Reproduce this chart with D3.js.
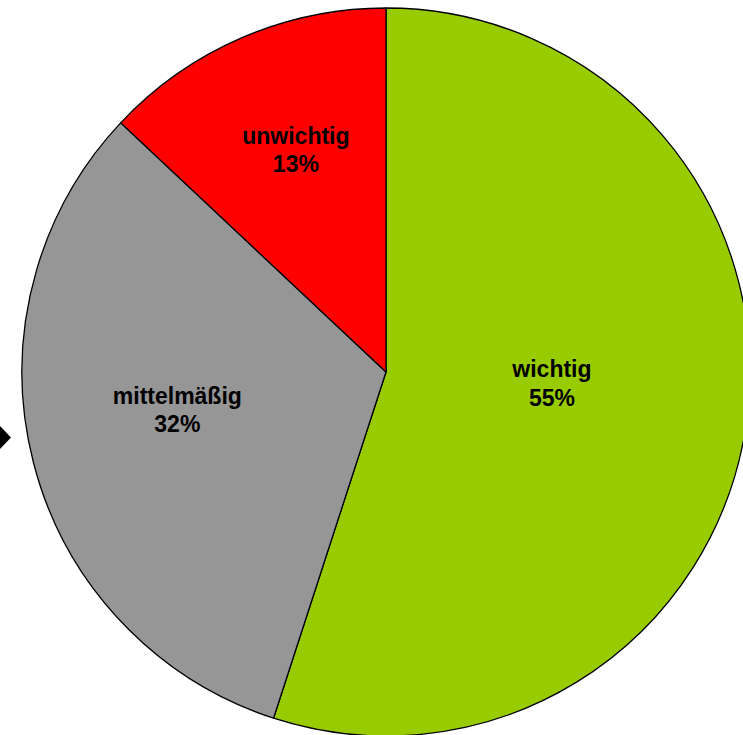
<!DOCTYPE html>
<html>
<head>
<meta charset="utf-8">
<script src="https://cdn.jsdelivr.net/npm/d3@7/dist/d3.min.js"></script>
<style>
  html, body { margin: 0; padding: 0; background: #fff; }
  svg { display: block; }
</style>
</head>
<body>
<svg id="chart" width="743" height="735"></svg>
<script>
// Data
const categories = ["wichtig", "mittelmäßig", "unwichtig"];
const values = [55, 32, 13];
const colors = ["#99CC00", "#969696", "#FF0000"];

// Layout (not data)
const W = 743, H = 735;
const cx = 386, cy = 372, R = 364;
const labelAngleDeg = [96.7, 257.6, 337.2];
const labelRadiusFrac = [0.459, 0.587, 0.639];

const svg = d3.select("#chart");

const pie = d3.pie().sort(null).value(d => d.value).startAngle(0).endAngle(2 * Math.PI);
const data = categories.map((c, i) => ({ name: c, value: values[i], color: colors[i], la: labelAngleDeg[i], lr: labelRadiusFrac[i] }));
const arcs = pie(data);

const arc = d3.arc().innerRadius(0).outerRadius(R);

const g = svg.append("g").attr("transform", `translate(${cx},${cy})`);

g.selectAll("path.slice")
  .data(arcs)
  .join("path")
  .attr("class", "slice")
  .attr("d", arc)
  .attr("fill", d => d.data.color)
  .attr("stroke", "#000")
  .attr("stroke-width", 1.3)
  .attr("stroke-linejoin", "round");

const total = d3.sum(values);
const labels = g.selectAll("text.lbl")
  .data(arcs)
  .join("text")
  .attr("class", "lbl")
  .attr("text-anchor", "middle")
  .attr("font-family", "'Liberation Sans', Arial, sans-serif")
  .attr("font-weight", "bold")
  .attr("font-size", "23px")
  .attr("fill", "#000")
  .attr("transform", d => {
    const a = d.data.la * Math.PI / 180;
    const r = R * d.data.lr;
    return `translate(${r * Math.sin(a)},${-r * Math.cos(a)})`;
  });

labels.append("tspan").attr("x", 0).attr("y", -14).text(d => d.data.name);
labels.append("tspan").attr("x", 0).attr("y", 14.5).text(d => Math.round(d.data.value / total * 100) + "%");

// Decorative arrow head at left edge
svg.append("path")
  .attr("d", d3.line()([[0, 426], [11, 437.5], [0, 449]]))
  .attr("fill", "#000");
</script>
</body>
</html>
